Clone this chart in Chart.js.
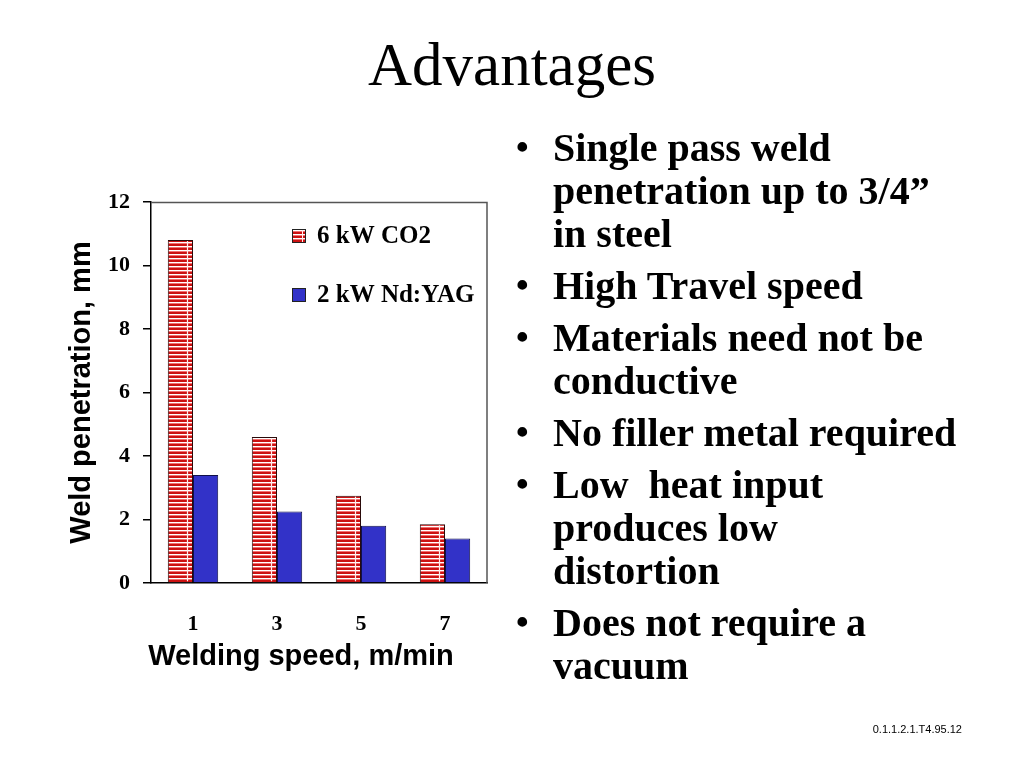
<!DOCTYPE html>
<html>
<head>
<meta charset="utf-8">
<script src="https://cdn.jsdelivr.net/npm/chart.js@4"></script>
<style>
  html,body{margin:0;padding:0;background:#fff;width:1024px;height:768px;overflow:hidden;}
  #wrap{position:absolute;left:0;top:0;width:1024px;height:768px;}
  #title{position:absolute;left:0;top:30px;width:1024px;text-align:center;font-family:"Liberation Serif","Times New Roman",serif;font-size:61px;color:#000;line-height:70px;}
  #bullets{position:absolute;left:516px;top:126px;width:505px;white-space:nowrap;font-family:"Liberation Serif","Times New Roman",serif;font-weight:bold;font-size:40px;line-height:43px;color:#000;}
  .item{position:relative;padding-left:37px;margin-bottom:9px;}
  .item:before{content:"\2022";position:absolute;left:0;top:0;font-size:36px;}
  #foot{position:absolute;left:840px;top:723px;width:122px;text-align:right;font-family:"Liberation Sans",Arial,sans-serif;font-size:11px;color:#000;}
</style>
</head>
<body>
<div id="wrap"><canvas id="c" width="1024" height="768"></canvas></div>
<div id="title">Advantages</div>
<div id="bullets">
  <div class="item">Single pass weld<br>penetration up to 3/4”<br>in steel</div>
  <div class="item">High Travel speed</div>
  <div class="item">Materials need not be<br>conductive</div>
  <div class="item">No filler metal required</div>
  <div class="item">Low&nbsp; heat input<br>produces low<br>distortion</div>
  <div class="item">Does not require a<br>vacuum</div>
</div>
<div id="foot">0.1.1.2.1.T4.95.12</div>
<script>
const categories = ["1", "3", "5", "7"];
const co2Values = [10.8, 4.6, 2.75, 1.85];
const yagValues = [3.4, 2.25, 1.8, 1.4];
const seriesLabels = ["6 kW CO2", "2 kW Nd:YAG"];
const yTicks = [0, 2, 4, 6, 8, 10, 12];
const xTitle = "Welding speed, m/min";
const yTitle = "Weld penetration, mm";

// striped pattern for CO2 series
const pc = document.createElement('canvas');
pc.width = 4; pc.height = 4;
const pctx = pc.getContext('2d');
pctx.fillStyle = '#cc1111'; pctx.fillRect(0,0,4,2);
pctx.fillStyle = '#ffffff'; pctx.fillRect(0,2,4,1);
pctx.fillStyle = '#f27070'; pctx.fillRect(0,3,4,1);
const ctx = document.getElementById('c').getContext('2d');
const stripe = ctx.createPattern(pc, 'repeat');

const serif = "'Liberation Serif','Times New Roman',serif";
const sans = "'Liberation Sans',Arial,sans-serif";

const extras = {
  id: 'extras',
  afterDatasetsDraw(chart) {
    const c = chart.ctx;
    const meta = chart.getDatasetMeta(0);
    c.save();
    c.strokeStyle = '#ffeaea';
    c.lineWidth = 1.2;
    meta.data.forEach(b => {
      const w = b.width;
      const x = Math.round(b.x - w/2 + w*0.78) + 0.5;
      c.beginPath(); c.moveTo(x, b.y + 1); c.lineTo(x, b.base - 1); c.stroke();
    });
    c.restore();
  },
  afterDraw(chart) {
    const c = chart.ctx;
    const a = chart.chartArea;
    c.save();
    c.strokeStyle = '#555';
    c.lineWidth = 1.5;
    c.beginPath();
    c.moveTo(a.left, a.top + 0.5); c.lineTo(a.right, a.top + 0.5); c.lineTo(a.right, a.bottom);
    c.stroke();
    // legend inside plot
    const lx = a.left + 141;
    const rows = [a.top + 34, a.top + 93];
    chart.data.datasets.forEach((ds, i) => {
      const y = rows[i];
      c.fillStyle = ds.backgroundColor;
      c.fillRect(lx, y - 7, 14, 14);
      c.strokeStyle = '#222'; c.lineWidth = 1;
      c.strokeRect(lx + 0.5, y - 6.5, 13, 13);
      if (i === 0) {
        c.strokeStyle = '#ffeaea';
        c.beginPath(); c.moveTo(lx + 10.5, y - 6); c.lineTo(lx + 10.5, y + 6); c.stroke();
      }
      c.fillStyle = '#000';
      c.font = "bold 25px " + serif;
      c.textBaseline = 'middle';
      c.textAlign = 'left';
      c.fillText(ds.label, lx + 25, y + 1);
    });
    // x axis title
    c.font = "bold 29px " + sans;
    c.textAlign = 'center';
    c.textBaseline = 'middle';
    c.fillText(xTitle, (a.left + a.right) / 2 - 18, 657);
    c.restore();
  }
};

new Chart(ctx, {
  type: 'bar',
  data: {
    labels: categories,
    datasets: [
      { label: seriesLabels[0], data: co2Values, backgroundColor: stripe, borderColor: '#2a0a0a', borderWidth: 1, borderSkipped: 'bottom' },
      { label: seriesLabels[1], data: yagValues, backgroundColor: '#3232c8', borderColor: '#10104a', borderWidth: 1, borderSkipped: 'bottom' }
    ]
  },
  options: {
    responsive: false,
    animation: false,
    devicePixelRatio: 1,
    layout: { padding: { left: 65, top: 202, right: 537, bottom: 98 } },
    plugins: { legend: { display: false }, tooltip: { enabled: false } },
    datasets: { bar: { categoryPercentage: 0.6, barPercentage: 1.0 } },
    scales: {
      x: {
        grid: { display: false, drawTicks: false },
        border: { display: true, color: '#000', width: 1.5 },
        ticks: { color: '#000', font: { family: serif, size: 22, weight: 'bold' }, padding: 28 },
        title: { display: false, text: xTitle },
        afterFit(s) { s.height = 768 - 98 - 583; }
      },
      y: {
        min: 0, max: 12,
        afterBuildTicks(s) { s.ticks = yTicks.map(v => ({ value: v })); },
        grid: { display: true, drawOnChartArea: false, drawTicks: true, tickLength: 8, color: '#000', lineWidth: 1.5 },
        border: { display: true, color: '#000', width: 1.5 },
        ticks: { color: '#000', font: { family: serif, size: 22, weight: 'bold' }, padding: 13 },
        title: { display: true, text: yTitle, color: '#000', font: { family: sans, size: 29, weight: 'bold' }, padding: 0 },
        afterFit(s) { s.width = 151 - 65; }
      }
    }
  },
  plugins: [extras]
});
</script>
</body>
</html>
